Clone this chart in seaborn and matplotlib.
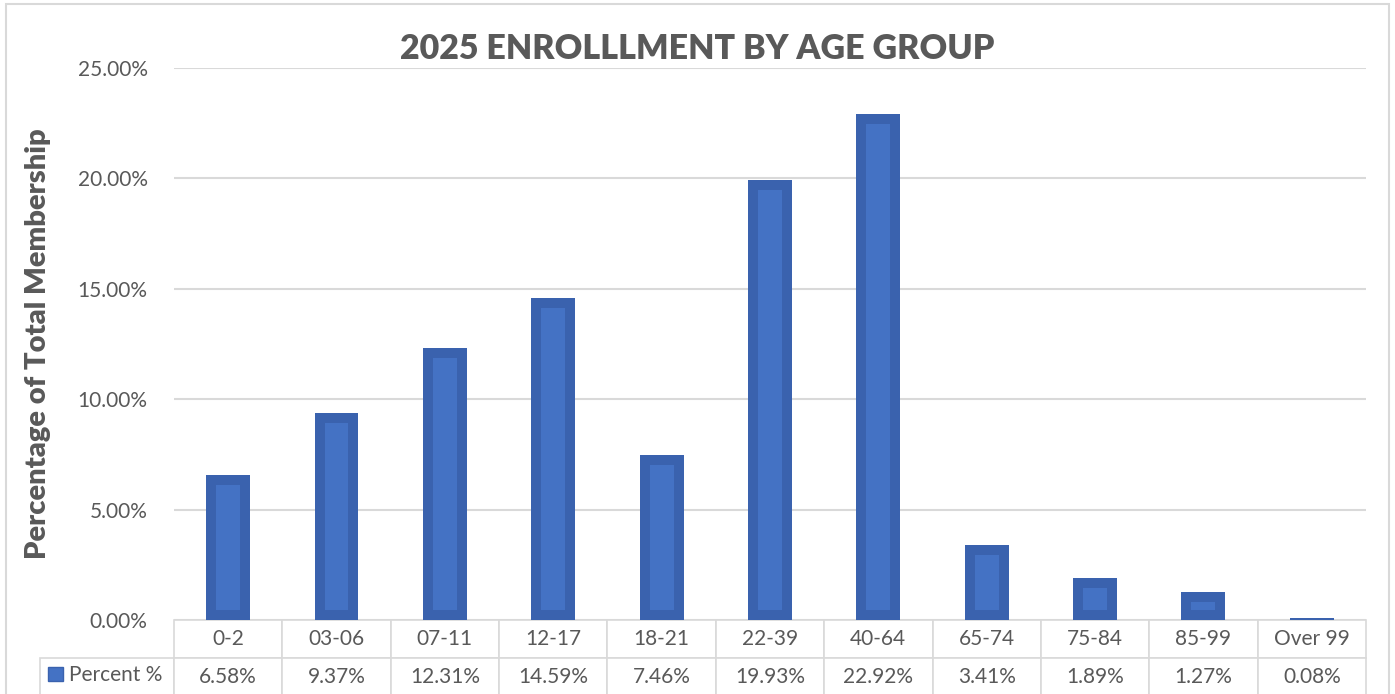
import matplotlib
matplotlib.use("Agg")
import matplotlib.pyplot as plt
import seaborn as sns
import pandas as pd
from matplotlib.patches import Patch, Rectangle

# Data
age_groups = ["0-2", "03-06", "07-11", "12-17", "18-21", "22-39",
              "40-64", "65-74", "75-84", "85-99", "Over 99"]
percent = [6.58, 9.37, 12.31, 14.59, 7.46, 19.93, 22.92, 3.41, 1.89, 1.27, 0.08]
series_name = "Percent %"

df = pd.DataFrame({"age": age_groups, "pct": percent})

sns.set_theme(style="white")
plt.rcParams["font.family"] = ["Lato", "DejaVu Sans"]

gray = "#595959"
grid = "#D9D9D9"
bar_inner = "#4472C4"
bar_edge = "#3A62AE"

fig = plt.figure(figsize=(13.95, 6.94), dpi=100)
ax = fig.add_axes([0.1247, 0.1066, 0.8545, 0.7954])

sns.barplot(data=df, x="age", y="pct", ax=ax, color=bar_inner,
            width=0.405, saturation=1, edgecolor=bar_edge, linewidth=14.4)
# keep the thick border inside each bar (Excel style)
for p in ax.patches:
    p.set_clip_path(p)

ax.set_ylim(0, 25)
ax.set_xlim(-0.5, len(age_groups) - 0.5)
ax.set_yticks([0, 5, 10, 15, 20, 25])
ax.set_yticklabels([f"{v:.2f}%" for v in [0, 5, 10, 15, 20, 25]],
                   fontsize=15, color=gray)
ax.tick_params(axis="y", length=0, pad=19)
ax.set_xticks([])
ax.set_xlabel("")
ax.yaxis.grid(True, color=grid, linewidth=1.5)
ax.set_axisbelow(True)
for s in ax.spines.values():
    s.set_visible(False)

ax.set_ylabel("Percentage of Total Membership", fontsize=21, fontweight="heavy",
              color=gray, labelpad=19)
fig.suptitle("2025 ENROLLLMENT BY AGE GROUP", x=0.5, y=0.952, fontsize=24.5,
             fontweight="heavy", color=gray)

# data table under the plot
label_w = 134 / 1192
tbl = ax.table(cellText=[[f"{v:.2f}%" for v in percent]],
               colLabels=age_groups,
               colWidths=[1 / len(age_groups)] * len(age_groups),
               cellLoc="center",
               bbox=[0, -0.137, 1, 0.137])
h = tbl[0, 0].get_height()
tbl.add_cell(1, -1, width=label_w, height=h, text="")
tbl.auto_set_font_size(False)
for (r, c), cell in tbl.get_celld().items():
    cell.set_edgecolor(grid)
    cell.set_linewidth(1.2)
    cell.get_text().set_fontsize(15)
    cell.get_text().set_color(gray)

leg = fig.legend(handles=[Patch(facecolor=bar_inner, edgecolor=bar_edge)],
                 labels=[series_name], loc="center left",
                 bbox_to_anchor=(0.0344, 0.027), frameon=False, fontsize=15,
                 handlelength=0.7, handleheight=0.7, handletextpad=0.3,
                 borderpad=0, borderaxespad=0)
for t in leg.get_texts():
    t.set_color(gray)

fig.add_artist(Rectangle((6 / 1395, -0.05), 1383 / 1395, 1.05 - 4 / 694,
                         transform=fig.transFigure, fill=False,
                         edgecolor=grid, linewidth=1.5))

fig.savefig("out.png", dpi=100)
